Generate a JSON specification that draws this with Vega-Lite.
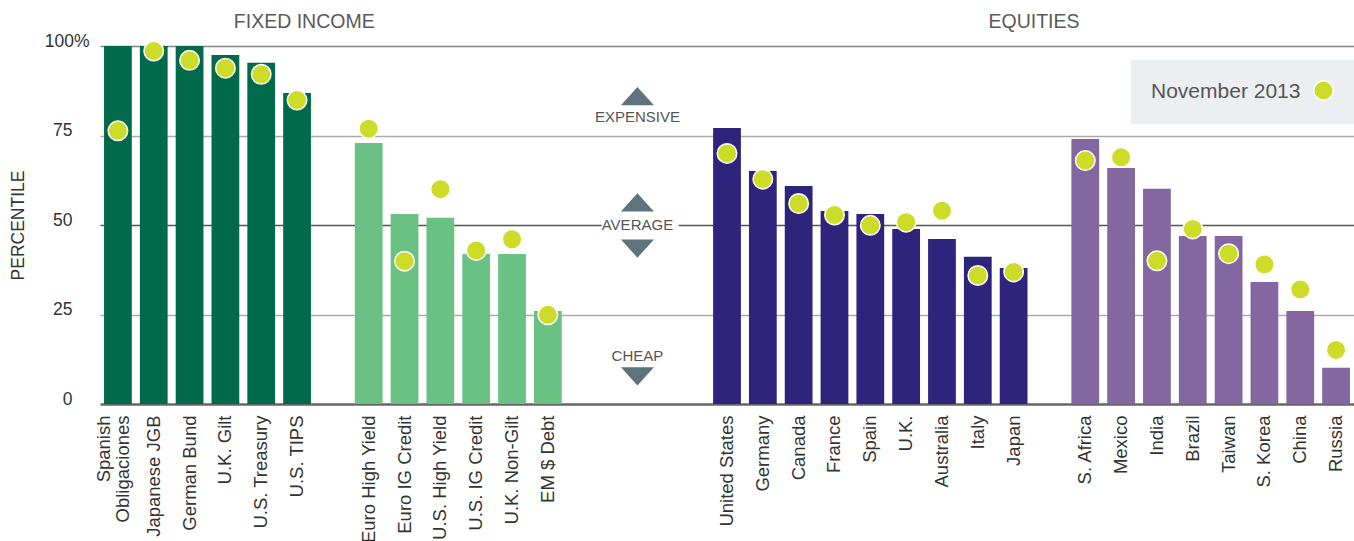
{
  "$schema": "https://vega.github.io/schema/vega-lite/v6.json",
  "width": 1254,
  "height": 358,
  "autosize": {"type": "none"},
  "padding": {"left": 100, "top": 46, "right": 0, "bottom": 137},
  "background": "white",
  "config": {"view": {"stroke": null}, "font": "Liberation Sans"},
  "datasets": {
    "bars": [
      {"cat": "Spanish Obligaciones", "group": "FI1", "value": 100, "dot": 76.3},
      {"cat": "Japanese JGB", "group": "FI1", "value": 100, "dot": 98.6},
      {"cat": "German Bund", "group": "FI1", "value": 100, "dot": 96},
      {"cat": "U.K. Gilt", "group": "FI1", "value": 97.5, "dot": 93.8},
      {"cat": "U.S. Treasury", "group": "FI1", "value": 95.3, "dot": 92.1},
      {"cat": "U.S. TIPS", "group": "FI1", "value": 86.9, "dot": 84.9},
      {"cat": "Euro High Yield", "group": "FI2", "value": 72.9, "dot": 76.9},
      {"cat": "Euro IG Credit", "group": "FI2", "value": 53.1, "dot": 39.9},
      {"cat": "U.S. High Yield", "group": "FI2", "value": 52, "dot": 60},
      {"cat": "U.S. IG Credit", "group": "FI2", "value": 41.9, "dot": 42.9},
      {"cat": "U.K. Non-Gilt", "group": "FI2", "value": 41.9, "dot": 46},
      {"cat": "EM $ Debt", "group": "FI2", "value": 26, "dot": 24.9},
      {"cat": "United States", "group": "EQ1", "value": 77.1, "dot": 70},
      {"cat": "Germany", "group": "EQ1", "value": 65.1, "dot": 62.8},
      {"cat": "Canada", "group": "EQ1", "value": 60.9, "dot": 56},
      {"cat": "France", "group": "EQ1", "value": 53.9, "dot": 52.8},
      {"cat": "Spain", "group": "EQ1", "value": 53.1, "dot": 49.9},
      {"cat": "U.K.", "group": "EQ1", "value": 48.9, "dot": 50.8},
      {"cat": "Australia", "group": "EQ1", "value": 46.1, "dot": 54},
      {"cat": "Italy", "group": "EQ1", "value": 41.1, "dot": 35.9},
      {"cat": "Japan", "group": "EQ1", "value": 38, "dot": 36.9},
      {"cat": "S. Africa", "group": "EQ2", "value": 74, "dot": 68},
      {"cat": "Mexico", "group": "EQ2", "value": 65.9, "dot": 68.9},
      {"cat": "India", "group": "EQ2", "value": 60.1, "dot": 40},
      {"cat": "Brazil", "group": "EQ2", "value": 46.9, "dot": 48.9},
      {"cat": "Taiwan", "group": "EQ2", "value": 46.9, "dot": 42},
      {"cat": "S. Korea", "group": "EQ2", "value": 34.1, "dot": 39},
      {"cat": "China", "group": "EQ2", "value": 26, "dot": 32},
      {"cat": "Russia", "group": "EQ2", "value": 10.1, "dot": 15.1}
    ],
    "arrows": [
      {"cat": "gap2c", "value": 86, "dir": "up"},
      {"cat": "gap2c", "value": 56.3, "dir": "up"},
      {"cat": "gap2c", "value": 43.4, "dir": "down"},
      {"cat": "gap2c", "value": 7.7, "dir": "down"}
    ],
    "zones": [
      {"cat": "gap2c", "value": 80.1, "text": "EXPENSIVE"},
      {"cat": "gap2c", "value": 50, "text": "AVERAGE"},
      {"cat": "gap2c", "value": 13.4, "text": "CHEAP"}
    ],
    "mask": [
      {"cat": "gap2b", "c2": "gap2d", "value": 48.6, "hi": 51.4}
    ],
    "fi": [{"cat": "U.S. TIPS", "value": 106.8, "text": "FIXED INCOME"}],
    "eq": [{"cat": "gap3", "value": 106.8, "text": "EQUITIES"}]
  },
  "layer": [
    {
      "data": {"name": "bars"},
      "mark": {"type": "bar", "width": {"band": 0.775}},
      "encoding": {
        "x": {
          "field": "cat",
          "type": "nominal",
          "scale": {
            "domain": ["Spanish Obligaciones", "Japanese JGB", "German Bund", "U.K. Gilt", "U.S. Treasury", "U.S. TIPS", "gap1", "Euro High Yield", "Euro IG Credit", "U.S. High Yield", "U.S. IG Credit", "U.K. Non-Gilt", "EM $ Debt", "gap2a", "gap2b", "gap2c", "gap2d", "United States", "Germany", "Canada", "France", "Spain", "U.K.", "Australia", "Italy", "Japan", "gap3", "S. Africa", "Mexico", "India", "Brazil", "Taiwan", "S. Korea", "China", "Russia"],
            "paddingInner": 0,
            "paddingOuter": 0
          },
          "axis": {
            "title": "",
            "domain": false,
            "ticks": false,
            "labelAngle": -90,
            "labelAlign": "right",
            "labelBaseline": "middle",
            "labelPadding": 11,
            "labelFontSize": 18.5,
            "labelColor": "#333333",
            "labelLineHeight": 19.5,
            "labelOverlap": false,
            "labelLimit": 300,
            "labelOffset": {
              "condition": {"test": "datum.value === 'Spanish Obligaciones'", "value": -14},
              "value": 0
            },
            "labelExpr": "indexof(datum.value,'gap')===0 ? '' : datum.value==='Spanish Obligaciones' ? ['Spanish','Obligaciones'] : datum.value"
          }
        },
        "y": {
          "field": "value",
          "type": "quantitative",
          "scale": {"domain": [0, 100], "nice": false},
          "axis": {
            "title": "PERCENTILE",
            "values": [0, 25, 50, 75, 100],
            "domain": false,
            "ticks": false,
            "labelPadding": {
              "condition": {"test": "datum.value === 100", "value": 11},
              "value": 28
            },
            "labelFontSize": 17.5,
            "labelColor": "#333333",
            "labelBaseline": "alphabetic",
            "labelExpr": "datum.value === 100 ? '100%' : datum.label",
            "titleFontSize": 17.5,
            "titleFontWeight": "normal",
            "titleColor": "#333333",
            "titleX": -82,
            "titleY": 179,
            "titleAngle": -90,
            "titleAlign": "center",
            "titleBaseline": "middle",
            "grid": true,
            "gridColor": {
              "condition": [
                {"test": "datum.value === 0", "value": "#666666"},
                {"test": "datum.value === 50", "value": "#555555"},
                {"test": "datum.value === 100", "value": "#858585"}
              ],
              "value": "#aaaaaa"
            },
            "gridWidth": {
              "condition": {"test": "datum.value === 0", "value": 2.5},
              "value": 1.5
            }
          }
        },
        "fill": {
          "field": "group",
          "type": "nominal",
          "scale": {"domain": ["FI1", "FI2", "EQ1", "EQ2"], "range": ["#006a4a", "#69c283", "#2e247b", "#8466a0"]},
          "legend": null
        }
      }
    },
    {
      "data": {"name": "mask"},
      "mark": {"type": "rect", "fill": "white"},
      "encoding": {
        "x": {"field": "cat", "type": "nominal", "bandPosition": 0},
        "x2": {"field": "c2", "bandPosition": 0.15},
        "y": {"field": "value", "type": "quantitative"},
        "y2": {"field": "hi"}
      }
    },
    {
      "data": {"name": "bars"},
      "mark": {"type": "point", "filled": true, "shape": "circle", "size": 380, "stroke": "white", "strokeWidth": 1.5, "opacity": 1},
      "encoding": {
        "x": {"field": "cat", "type": "nominal"},
        "y": {"field": "dot", "type": "quantitative"},
        "color": {
          "datum": "November 2013",
          "scale": {"range": ["#cddc29"]},
          "legend": {
            "title": "November 2013",
            "titleOrient": "left",
            "labelExpr": "''",
            "orient": "none",
            "legendX": 1031,
            "legendY": 14,
            "fillColor": "#eceff2",
            "padding": 20,
            "titleFontSize": 21,
            "titleFontWeight": "normal",
            "titleColor": "#555555",
            "titlePadding": 12,
            "titleBaseline": "middle",
            "symbolType": "circle",
            "symbolSize": 380,
            "symbolFillColor": "#cddc29",
            "symbolStrokeColor": "white",
            "symbolStrokeWidth": 1.5,
            "symbolOpacity": 1,
            "labelFontSize": 1,
            "labelOffset": 0
          }
        }
      }
    },
    {
      "data": {"name": "arrows"},
      "mark": {"type": "point", "filled": true, "size": 1089, "color": "#5f737d", "opacity": 1, "strokeWidth": 0},
      "encoding": {
        "x": {"field": "cat", "type": "nominal", "bandPosition": 0},
        "y": {"field": "value", "type": "quantitative"},
        "shape": {
          "field": "dir",
          "type": "nominal",
          "scale": {"domain": ["up", "down"], "range": ["M-1,0.55L1,0.55L0,-0.55Z", "M-1,-0.55L1,-0.55L0,0.55Z"]},
          "legend": null
        }
      }
    },
    {
      "data": {"name": "zones"},
      "mark": {"type": "text", "fontSize": 15, "color": "#555555", "align": "center", "baseline": "middle"},
      "encoding": {
        "x": {"field": "cat", "type": "nominal", "bandPosition": 0},
        "y": {"field": "value", "type": "quantitative"},
        "text": {"field": "text"}
      }
    },
    {
      "data": {"name": "fi"},
      "mark": {"type": "text", "fontSize": 19.5, "color": "#5a5a5a", "align": "center", "baseline": "middle"},
      "encoding": {
        "x": {"field": "cat", "type": "nominal", "bandPosition": 0.7},
        "y": {"field": "value", "type": "quantitative"},
        "text": {"field": "text"}
      }
    },
    {
      "data": {"name": "eq"},
      "mark": {"type": "text", "fontSize": 19.5, "color": "#5a5a5a", "align": "center", "baseline": "middle"},
      "encoding": {
        "x": {"field": "cat", "type": "nominal", "bandPosition": 0.07},
        "y": {"field": "value", "type": "quantitative"},
        "text": {"field": "text"}
      }
    }
  ]
}
